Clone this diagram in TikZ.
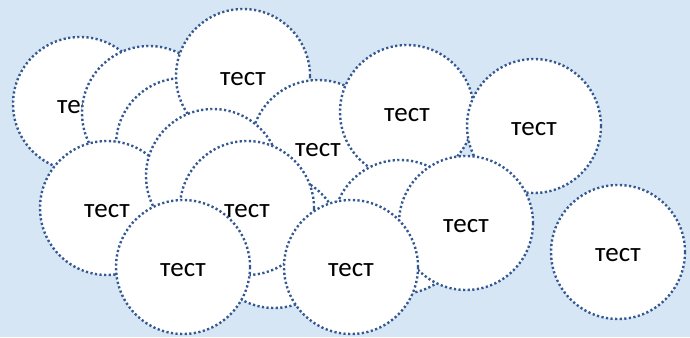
\documentclass[tikz,border=0pt]{standalone}
\usepackage{fontspec}
\setmainfont{Carlito}
\definecolor{sheet}{RGB}{214,230,245}
\definecolor{rim}{RGB}{52,88,145}

\begin{document}
\begin{tikzpicture}[
  x=1pt, y=-1pt,
  font=\fontsize{27}{31}\selectfont,
  bubble/.style={circle, draw=rim, fill=white, line width=2.4pt,
    dash pattern=on 2.2pt off 2.4pt, minimum size=134pt, inner sep=0pt,
    text height=19pt, text depth=0pt}
]

% Background
\fill[sheet] (0,0) rectangle (690,337);
\useasboundingbox (0,0) rectangle (690,337);

% Back row of circles
\node[bubble] (c1) at (80,104) {тест};
\node[bubble] (c2) at (149,113) {тест};
\node[bubble] (c3) at (183,145) {тест};
\node[bubble] (c4) at (243,76) {тест};
\node[bubble] (c5) at (318,147) {тест};
\node[bubble] (c6) at (107,208) {тест};
\node[bubble] (c7) at (213,176) {тест};
\node[bubble] (c8) at (274,241) {тест};

% Middle circles
\node[bubble] (c9) at (247,208) {тест};
\node[bubble] (c10) at (183,267) {тест};
\node[bubble] (c11) at (407,112) {тест};
\node[bubble] (c12) at (534,126) {тест};
\node[bubble] (c13) at (400,227) {тест};
\node[bubble] (c14) at (466,223) {тест};

% Front circles
\node[bubble] (c15) at (351,267) {тест};
\node[bubble] (c16) at (618,252) {тест};

\end{tikzpicture}
\end{document}
